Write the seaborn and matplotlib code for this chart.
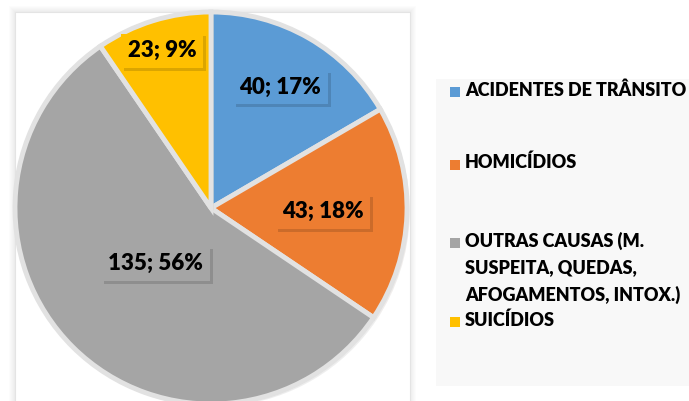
import numpy as np
import matplotlib
matplotlib.use('Agg')
import matplotlib.pyplot as plt
import matplotlib.patheffects as pe
from matplotlib.patches import Rectangle
import seaborn as sns

sns.set_theme(style='white')
plt.rcParams['font.family'] = ['Lato', 'DejaVu Sans']

categorias = ['ACIDENTES DE TRÂNSITO', 'HOMICÍDIOS',
              'OUTRAS CAUSAS (M.\nSUSPEITA, QUEDAS,\nAFOGAMENTOS, INTOX.)',
              'SUICÍDIOS']
valores = [40, 43, 135, 23]
percentuais = [17, 18, 56, 9]
cores = ['#5B9BD5', '#ED7D31', '#A5A5A5', '#FFC000']
# distancia radial de cada rotulo (fracao do raio)
dist_rotulo = [0.71, 0.57, 0.40, 0.84]

W, H = 689, 401
fig = plt.figure(figsize=(W / 100, H / 100), dpi=100)

# caixa branca da area do grafico com sombra suave
for k in range(6, 0, -1):
    fig.patches.append(Rectangle(((15 - k) / W, -0.1), (395 + 2 * k) / W, (389 + k) / H + 0.1,
                                 transform=fig.transFigure, facecolor='black', alpha=0.012,
                                 edgecolor='none', zorder=-3))
fig.patches.append(Rectangle((15 / W, -0.1), 395 / W, 389 / H + 0.1,
                             transform=fig.transFigure, facecolor='white',
                             edgecolor='#e4e4e4', lw=0.8, zorder=-2))

# caixa da legenda
fig.patches.append(Rectangle((436 / W, (H - 386) / H), 253 / W, 307 / H,
                             transform=fig.transFigure, facecolor='#f8f8f8',
                             edgecolor='none', zorder=-2))

cx, cy, r = 211, 208, 196
ax = fig.add_axes([(cx - r) / W, (H - cy - r) / H, 2 * r / W, 2 * r / H])
ax.set_facecolor('none')
ax.set_zorder(1)

wedges, _ = ax.pie(valores, colors=cores, startangle=90, counterclock=False,
                   wedgeprops=dict(edgecolor='#e2e2e2', linewidth=3.5))
for w in wedges:
    w.set_path_effects([pe.SimplePatchShadow(offset=(2, -2), alpha=0.08), pe.Normal()])

for w, v, p, d, c in zip(wedges, valores, percentuais, dist_rotulo, cores):
    ang = np.deg2rad((w.theta1 + w.theta2) / 2)
    t = ax.text(d * np.cos(ang), d * np.sin(ang), f'{v}; {p}%', ha='center', va='center',
                fontsize=16, fontweight='heavy', color='black',
                bbox=dict(boxstyle='square,pad=0.3', facecolor=c, edgecolor='none'))
    t.get_bbox_patch().set_path_effects([pe.SimplePatchShadow(offset=(2, -2), alpha=0.2), pe.Normal()])

ax.set_xlim(-1, 1)
ax.set_ylim(-1, 1)
ax.set_aspect('equal')
ax.axis('off')

# legenda
pos_y = [92, 165, 243, 322]
for cat, c, y in zip(categorias, cores, pos_y):
    fig.patches.append(Rectangle((450 / W, (H - y - 5) / H), 10 / W, 10 / H,
                                 transform=fig.transFigure, facecolor=c, edgecolor='none', zorder=2))
    fig.text(465 / W, (H - y + 11) / H, cat, ha='left', va='top', fontsize=13,
             fontweight='heavy', color='black', linespacing=1.65)

fig.savefig('out.png', dpi=100)
